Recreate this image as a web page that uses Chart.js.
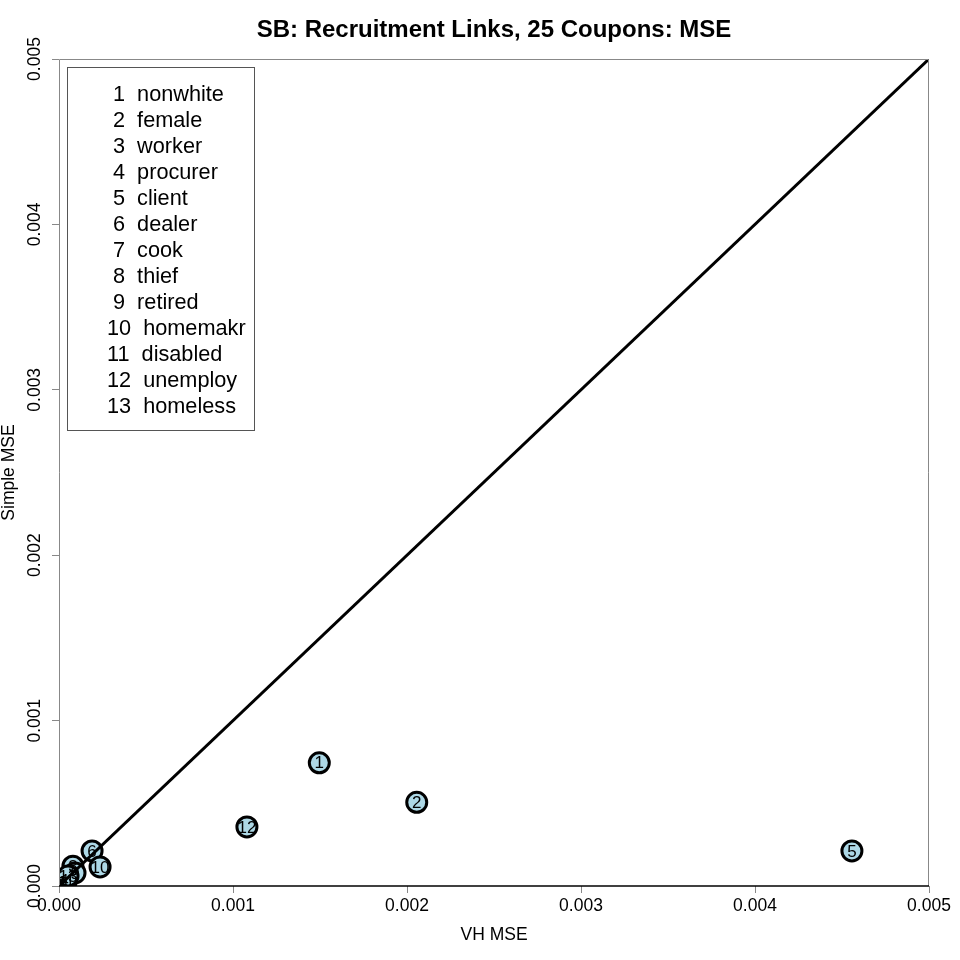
<!DOCTYPE html>
<html>
<head>
<meta charset="utf-8">
<script src="https://cdn.jsdelivr.net/npm/chart.js@4.4.1/dist/chart.umd.min.js"></script>
<style>
  html, body { margin: 0; padding: 0; background: #fff; }
  #wrap { width: 960px; height: 960px; }
</style>
</head>
<body>
<div id="wrap"><canvas id="myChart"></canvas></div>
<script>
const myChart = document.getElementById('myChart');

// values
const vhMse     = [0.001496, 0.002056, 0.000080, 0.000029, 0.004557, 0.000190, 0.000017, 0.000006, 0.000092, 0.000236, 0.000040, 0.001080, 0.000052];
const simpleMse = [0.000745, 0.000506, 0.000120, 0.000036, 0.000212, 0.000212, 0.000018, 0.000006, 0.000079, 0.000115, 0.000024, 0.000357, 0.000060];
const varNames  = ['nonwhite', 'female', 'worker', 'procurer', 'client', 'dealer', 'cook', 'thief', 'retired', 'homemakr', 'disabled', 'unemploy', 'homeless'];
const tickVals  = [0, 0.001, 0.002, 0.003, 0.004, 0.005];

const FONT = '"Liberation Sans", Arial, Helvetica, sans-serif';

function points(){
    let array = [];
    for (let i = 0; i < vhMse.length; i++){
        array.push({x: vhMse[i], y: simpleMse[i]});
    };
    return array;
};

// box, labels in the circles and the legend
const extras = {
    id: 'extras',
    afterDatasetsDraw(chart){
        const ctx = chart.ctx;
        const a = chart.chartArea;
        const meta = chart.getDatasetMeta(1);

        ctx.save();
        ctx.beginPath();
        ctx.rect(a.left, a.top, a.right - a.left, a.bottom - a.top);
        ctx.clip();
        ctx.fillStyle = '#000';
        ctx.font = '17px ' + FONT;
        ctx.textAlign = 'center';
        ctx.textBaseline = 'middle';
        meta.data.forEach((p, i) => {
            ctx.fillText(String(i + 1), p.x, p.y + 1);
        });
        ctx.restore();

        ctx.save();
        // box round the plot
        ctx.strokeStyle = '#888';
        ctx.lineWidth = 1;
        ctx.beginPath();
        ctx.moveTo(a.left + 0.5, a.bottom);
        ctx.lineTo(a.left + 0.5, a.top + 0.5);
        ctx.lineTo(a.right - 0.5, a.top + 0.5);
        ctx.lineTo(a.right - 0.5, a.bottom);
        ctx.stroke();
        ctx.strokeStyle = '#000';
        ctx.lineWidth = 1.5;
        ctx.beginPath();
        ctx.moveTo(a.left, a.bottom);
        ctx.lineTo(a.right, a.bottom);
        ctx.stroke();

        // legend
        const lx = a.left + 8, ly = a.top + 8;
        ctx.strokeStyle = '#555';
        ctx.lineWidth = 1;
        ctx.strokeRect(lx + 0.5, ly + 0.5, 187, 363);
        ctx.fillStyle = '#000';
        ctx.font = '21.7px ' + FONT;
        ctx.textAlign = 'left';
        ctx.textBaseline = 'middle';
        varNames.forEach((n, i) => {
            const num = String(i + 1);
            const tx = lx + 46 - 6 * (num.length - 1);
            ctx.fillText(num + '  ' + n, tx, ly + 28 + i * 26);
        });
        ctx.restore();
    }
};

const scatterChart = new Chart(myChart, {
    type: 'scatter',
    data: {
        datasets: [{
            type: 'line',
            data: [{x: 0, y: 0}, {x: 0.005, y: 0.005}],
            borderColor: '#000',
            borderWidth: 3,
            pointRadius: 0,
            fill: false,
            clip: 0
        }, {
            data: points(),
            pointRadius: 10,
            pointHoverRadius: 10,
            borderWidth: 3,
            borderColor: '#000',
            backgroundColor: '#ADD8E6',
            clip: 0
        }]
    },
    options: {
        responsive: true,
        maintainAspectRatio: false,
        animation: false,
        events: [],
        layout: {padding: {left: 0, right: 31, top: 0, bottom: 0}},
        plugins: {
            legend: {display: false},
            tooltip: {enabled: false},
            title: {
                display: true,
                fullSize: false,
                text: 'SB: Recruitment Links, 25 Coupons: MSE',
                color: '#000',
                font: {family: FONT, size: 24, weight: 'bold', lineHeight: 1.2},
                padding: {top: 16, bottom: 14.2}
            }
        },
        scales: {
            x: {
                type: 'linear',
                min: 0,
                max: 0.005,
                afterBuildTicks: (scale) => { scale.ticks = tickVals.map(v => ({value: v})); },
                afterFit: (scale) => { scale.height = 74; },
                ticks: {
                    color: '#000',
                    font: {family: FONT, size: 17.5},
                    padding: 3,
                    maxRotation: 0,
                    callback: (v) => v.toFixed(3)
                },
                grid: {drawOnChartArea: false, color: '#888', tickLength: 7},
                border: {display: false},
                title: {
                    display: true,
                    text: 'VH MSE',
                    color: '#000',
                    font: {family: FONT, size: 17.5, lineHeight: 1.2},
                    padding: {top: 0, bottom: 14.5}
                }
            },
            y: {
                type: 'linear',
                min: 0,
                max: 0.005,
                afterBuildTicks: (scale) => { scale.ticks = tickVals.map(v => ({value: v})); },
                afterFit: (scale) => { scale.width = 59; },
                ticks: {
                    color: '#000',
                    font: {family: FONT, size: 17.5},
                    padding: -5,
                    minRotation: 90,
                    maxRotation: 90,
                    crossAlign: 'center',
                    callback: (v) => v.toFixed(3)
                },
                grid: {drawOnChartArea: false, color: '#888', tickLength: 7},
                border: {display: false},
                title: {
                    display: true,
                    text: 'Simple MSE',
                    color: '#000',
                    font: {family: FONT, size: 17.5, lineHeight: 1},
                    padding: {top: 0, bottom: 0}
                }
            }
        }
    },
    plugins: [extras]
});
</script>
</body>
</html>
